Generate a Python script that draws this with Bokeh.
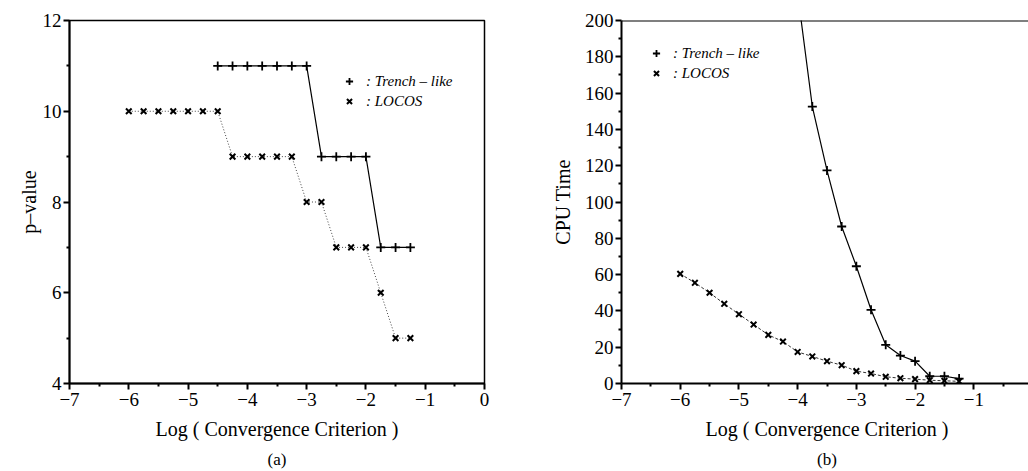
from bokeh.plotting import figure
from bokeh.layouts import row
from bokeh.models import (FixedTicker, Legend, LegendItem, Span, Title, Range1d)
from bokeh.embed import file_html
from bokeh.resources import INLINE

# ---- data ----
# panel (a): p-value vs log(convergence criterion)
xa_trench = [-4.5, -4.25, -4.0, -3.75, -3.5, -3.25, -3.0, -2.75, -2.5, -2.25, -2.0, -1.75, -1.5, -1.25]
pa_trench = [11, 11, 11, 11, 11, 11, 11, 9, 9, 9, 9, 7, 7, 7]
xa_locos = [-6.0, -5.75, -5.5, -5.25, -5.0, -4.75, -4.5, -4.25, -4.0, -3.75, -3.5, -3.25,
            -3.0, -2.75, -2.5, -2.25, -2.0, -1.75, -1.5, -1.25]
pa_locos = [10, 10, 10, 10, 10, 10, 10, 9, 9, 9, 9, 9, 8, 8, 7, 7, 7, 6, 5, 5]

# panel (b): CPU time vs log(convergence criterion)
xb_trench = [-4.0, -3.75, -3.5, -3.25, -3.0, -2.75, -2.5, -2.25, -2.0, -1.75, -1.5, -1.25]
cpu_trench = [215, 152.6, 117.4, 86.5, 64.6, 40.6, 21.3, 15.4, 12.3, 4.0, 4.0, 2.7]
xb_locos = [-6.0, -5.75, -5.5, -5.25, -5.0, -4.75, -4.5, -4.25, -4.0, -3.75, -3.5, -3.25,
            -3.0, -2.75, -2.5, -2.25, -2.0, -1.75, -1.5, -1.25]
cpu_locos = [60.4, 55.5, 50.0, 43.9, 38.2, 32.5, 26.8, 23.1, 17.4, 14.9, 12.3, 10.1,
             6.8, 5.5, 3.7, 2.9, 2.4, 1.8, 1.5, 1.2]

xticks_a = [-7, -6, -5, -4, -3, -2, -1, 0]
xticks_b = [-7, -6, -5, -4, -3, -2, -1]
xminor = [-6.5, -5.5, -4.5, -3.5, -2.5, -1.5, -0.5]
yticks_a = [4, 6, 8, 10, 12]
yminor_a = [5, 7, 9, 11]
yticks_b = [0, 20, 40, 60, 80, 100, 120, 140, 160, 180, 200]
yminor_b = [10, 30, 50, 70, 90, 110, 130, 150, 170, 190]

label_trench = ": Trench \u2013 like"
label_locos = ": LOCOS"
xlabel = "Log ( Convergence Criterion )"

FONT = "Liberation Serif"
TICK_SIZE = "19px"
LABEL_SIZE = "20px"


def style_axes(p, ylabel_standoff):
    for ax in (p.xaxis[0], p.yaxis[0]):
        ax.major_label_text_font = FONT
        ax.major_label_text_font_size = TICK_SIZE
        ax.major_label_text_color = "black"
        ax.axis_label_text_font = FONT
        ax.axis_label_text_font_size = LABEL_SIZE
        ax.axis_label_text_font_style = "normal"
        ax.axis_label_text_color = "black"
        ax.axis_line_color = "black"
        ax.axis_line_width = 2
        ax.major_tick_line_color = "black"
        ax.major_tick_line_width = 2
        ax.minor_tick_line_color = "black"
        ax.minor_tick_line_width = 2
        ax.major_tick_in = 0
        ax.major_tick_out = 6
        ax.minor_tick_in = 0
        ax.minor_tick_out = 3
    p.xaxis[0].major_label_standoff = 3
    p.xaxis[0].axis_label_standoff = 9
    p.yaxis[0].major_label_standoff = 2
    p.yaxis[0].axis_label_standoff = ylabel_standoff
    p.xgrid.visible = False
    p.ygrid.visible = False


def make_legend(p, r_plus, r_x, loc):
    leg = Legend(items=[LegendItem(label=label_trench, renderers=[r_plus]),
                        LegendItem(label=label_locos, renderers=[r_x])],
                 location=loc, orientation="vertical")
    leg.label_text_font = FONT
    leg.label_text_font_size = "15px"
    leg.label_text_font_style = "italic"
    leg.label_text_color = "black"
    leg.glyph_width = 18
    leg.glyph_height = 18
    leg.label_standoff = 8
    leg.label_height = 18
    leg.spacing = 2
    leg.padding = 0
    leg.margin = 0
    leg.border_line_color = None
    leg.background_fill_alpha = 0
    p.add_layout(leg)


# ---- panel (a) ----
pa = figure(frame_width=415, frame_height=363, x_range=Range1d(-7, 0), y_range=Range1d(4, 12),
            output_backend="svg", toolbar_location=None,
            min_border_left=69, min_border_right=64, min_border_top=20, min_border_bottom=20)
pa.outline_line_color = "black"
pa.outline_line_width = 1.5
pa.xaxis.ticker = FixedTicker(ticks=xticks_a, minor_ticks=xminor)
pa.yaxis.ticker = FixedTicker(ticks=yticks_a, minor_ticks=yminor_a)
pa.xaxis.axis_label = xlabel
pa.yaxis.axis_label = "p\u2013value"
style_axes(pa, 0)

pa.line(xa_locos, pa_locos, line_color="#444444", line_width=1, line_dash="1 2")
pa.line(xa_trench, pa_trench, line_color="black", line_width=1.2)
ra_x = pa.scatter(xa_locos, pa_locos, marker="x", size=8, line_color="black", line_width=2)
ra_p = pa.scatter(xa_trench, pa_trench, marker="cross", size=9, line_color="black", line_width=1.8)
make_legend(pa, ra_p, ra_x, (271, 273))
pa.add_layout(Title(text="(a)", align="center", text_font=FONT, text_font_size="17px",
                    text_font_style="normal", text_color="black"), "below")

# ---- panel (b) ----
pb = figure(frame_width=411, frame_height=363, x_range=Range1d(-7, 0), y_range=Range1d(0, 200),
            output_backend="svg", toolbar_location=None,
            min_border_left=69, min_border_right=0, min_border_top=20, min_border_bottom=20)
pb.outline_line_color = None
pb.xaxis.ticker = FixedTicker(ticks=xticks_b, minor_ticks=xminor)
pb.yaxis.ticker = FixedTicker(ticks=yticks_b, minor_ticks=yminor_b)
pb.xaxis.axis_label = xlabel
pb.yaxis.axis_label = "CPU Time"
style_axes(pb, 8)
pb.add_layout(Span(location=200, dimension="width", line_color="black", line_width=2))

pb.line(xb_locos, cpu_locos, line_color="#333333", line_width=1, line_dash="3 2")
pb.line(xb_trench, cpu_trench, line_color="black", line_width=1.2)
rb_x = pb.scatter(xb_locos, cpu_locos, marker="x", size=8, line_color="black", line_width=2)
rb_p = pb.scatter(xb_trench, cpu_trench, marker="cross", size=9, line_color="black", line_width=1.8)
make_legend(pb, rb_p, rb_x, (26, 301))
pb.add_layout(Title(text="(b)", align="center", text_font=FONT, text_font_size="17px",
                    text_font_style="normal", text_color="black"), "below")

layout = row(pa, pb)
open("out.html", "w").write(file_html(layout, INLINE))
